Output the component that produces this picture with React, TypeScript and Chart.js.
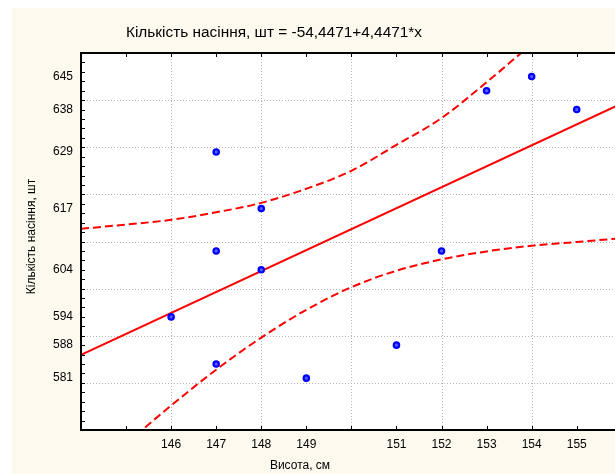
import { useEffect, useRef } from "react";
import { Chart, registerables } from "chart.js";

Chart.register(...registerables);

// ---- text ----
const titleText = "Кількість насіння, шт = -54,4471+4,4471*x";
const xTitleText = "Висота, см";
const yTitleText = "Кількість насіння, шт";

// ---- observed points ----
const pointX = [146, 147, 147, 147, 148, 148, 149, 151, 152, 153, 154, 155];
const pointY = [594, 629, 608, 584, 617, 604, 581, 588, 608, 642, 645, 638];

// ---- regression line (end points) ----
const lineX = [144, 156];
const lineY = [585.94, 639.3];

// ---- 95% confidence bands ----
const bandX = [144, 145, 146, 147, 148, 149, 150, 151, 152, 153, 154, 155, 156];
const upperY = [612.7, 613.6, 614.6, 616.2, 618.2, 621.2, 625.0, 630.5, 636.2, 643.8, 651.9, 659.9, 668.0];
const lowerY = [559.0, 567.1, 575.2, 582.8, 589.6, 595.5, 600.3, 603.8, 606.2, 607.9, 609.1, 609.9, 610.7];

// ---- axes ----
const xMin = 144;
const xMax = 156;
const yMin = 570;
const yMax = 650;
const xTickLabels = [146, 147, 148, 149, 151, 152, 153, 154, 155];
const yTickLabels = [581, 588, 594, 604, 617, 629, 638, 645];
const xGridValues = [146, 148, 150, 152, 154];
const yGridValues = [580, 590, 600, 610, 620, 630, 640];
const xMinorTicks = [145, 146, 147, 148, 149, 150, 151, 152, 153, 154, 155];
const yMinorStep = 2;

const FONT = "Arial, 'Liberation Sans', sans-serif";

const decorPlugin = {
  id: "decor",
  beforeDatasetsDraw(chart: any) {
    const { ctx, chartArea: a, scales } = chart;
    const x = scales.x;
    const y = scales.y;
    ctx.save();
    ctx.fillStyle = "#ffffff";
    ctx.fillRect(a.left, a.top, a.right - a.left, a.bottom - a.top);
    ctx.strokeStyle = "#b4b4b4";
    ctx.lineWidth = 1;
    ctx.setLineDash([1, 2]);
    for (const v of xGridValues) {
      const px = Math.round(x.getPixelForValue(v)) + 0.5;
      ctx.beginPath();
      ctx.moveTo(px, a.top);
      ctx.lineTo(px, a.bottom);
      ctx.stroke();
    }
    for (const v of yGridValues) {
      const py = Math.round(y.getPixelForValue(v)) + 0.5;
      ctx.beginPath();
      ctx.moveTo(a.left, py);
      ctx.lineTo(a.right, py);
      ctx.stroke();
    }
    ctx.restore();
  },
  afterDatasetsDraw(chart: any) {
    const { ctx, chartArea: a, scales } = chart;
    const x = scales.x;
    const y = scales.y;
    ctx.save();
    ctx.strokeStyle = "#000000";
    ctx.lineWidth = 2;
    ctx.setLineDash([]);
    ctx.beginPath();
    ctx.moveTo(a.right, a.top);
    ctx.lineTo(a.left, a.top);
    ctx.lineTo(a.left, a.bottom);
    ctx.lineTo(a.right, a.bottom);
    ctx.stroke();
    // inside tick marks
    ctx.lineWidth = 1;
    for (const v of xMinorTicks) {
      const px = Math.round(x.getPixelForValue(v)) + 0.5;
      ctx.beginPath();
      ctx.moveTo(px, a.bottom);
      ctx.lineTo(px, a.bottom - 4);
      ctx.moveTo(px, a.top);
      ctx.lineTo(px, a.top + 4);
      ctx.stroke();
    }
    for (let v = yMin + yMinorStep; v < yMax; v += yMinorStep) {
      const py = Math.round(y.getPixelForValue(v)) + 0.5;
      ctx.beginPath();
      ctx.moveTo(a.left, py);
      ctx.lineTo(a.left + 4, py);
      ctx.stroke();
    }
    ctx.restore();
  },
  afterDraw(chart: any) {
    const { ctx, chartArea: a } = chart;
    ctx.save();
    ctx.fillStyle = "#000000";
    ctx.textAlign = "center";
    ctx.textBaseline = "middle";
    ctx.font = `15.4px ${FONT}`;
    ctx.fillText(titleText, 262, 25);
    ctx.font = `12px ${FONT}`;
    ctx.fillText(xTitleText, 288, 458);
    ctx.translate(20, (a.top + a.bottom) / 2 - 5);
    ctx.rotate(-Math.PI / 2);
    ctx.fillText(yTitleText, 0, 0);
    ctx.restore();
  },
};

export default function App() {
  const ref = useRef<HTMLCanvasElement | null>(null);

  useEffect(() => {
    if (!ref.current) return;
    const chart = new Chart(ref.current, {
      type: "scatter",
      data: {
        datasets: [
          {
            label: "data",
            data: pointX.map((v, i) => ({ x: v, y: pointY[i] })),
            showLine: false,
            pointRadius: 2.7,
            pointBorderWidth: 2.2,
            pointBorderColor: "#0000ff",
            pointBackgroundColor: "#5a5aff",
            order: 0,
          },
          {
            label: "regression",
            data: lineX.map((v, i) => ({ x: v, y: lineY[i] })),
            showLine: true,
            borderColor: "#ff0000",
            borderWidth: 2,
            pointRadius: 0,
            order: 1,
          },
          {
            label: "upper",
            data: bandX.map((v, i) => ({ x: v, y: upperY[i] })),
            showLine: true,
            borderColor: "#ff0000",
            borderWidth: 2,
            borderDash: [8, 4],
            cubicInterpolationMode: "monotone",
            pointRadius: 0,
            order: 2,
          },
          {
            label: "lower",
            data: bandX.map((v, i) => ({ x: v, y: lowerY[i] })),
            showLine: true,
            borderColor: "#ff0000",
            borderWidth: 2,
            borderDash: [8, 4],
            cubicInterpolationMode: "monotone",
            pointRadius: 0,
            order: 3,
          },
        ],
      },
      options: {
        responsive: false,
        animation: false,
        devicePixelRatio: 1,
        layout: { padding: { top: 45, right: 1, left: 0, bottom: 0 } },
        plugins: {
          legend: { display: false },
          tooltip: { enabled: false },
          title: { display: false },
        },
        scales: {
          x: {
            type: "linear",
            min: xMin,
            max: xMax,
            grid: { display: false, drawTicks: false },
            border: { display: false },
            afterBuildTicks: (s: any) => {
              s.ticks = xTickLabels.map((v) => ({ value: v }));
            },
            afterFit: (s: any) => {
              s.height = 44;
            },
            ticks: {
              autoSkip: false,
              maxRotation: 0,
              padding: 7,
              color: "#000000",
              font: { family: FONT, size: 12 },
              callback: (v: any) => String(v),
            },
          },
          y: {
            type: "linear",
            min: yMin,
            max: yMax,
            grid: { display: false, drawTicks: false },
            border: { display: false },
            afterBuildTicks: (s: any) => {
              s.ticks = yTickLabels.map((v) => ({ value: v }));
            },
            afterFit: (s: any) => {
              s.width = 69;
            },
            ticks: {
              autoSkip: false,
              padding: 8,
              color: "#000000",
              font: { family: FONT, size: 12 },
              callback: (v: any) => String(v),
            },
          },
        },
      },
      plugins: [decorPlugin],
    });
    return () => chart.destroy();
  }, []);

  return (
    <div
      style={{
        position: "fixed",
        left: 12,
        top: 8,
        width: 603,
        height: 466,
        background: "#fdf9ee",
        overflow: "hidden",
      }}
    >
      <canvas
        ref={ref}
        width={616}
        height={466}
        style={{ display: "block", width: 616, height: 466 }}
      />
    </div>
  );
}
